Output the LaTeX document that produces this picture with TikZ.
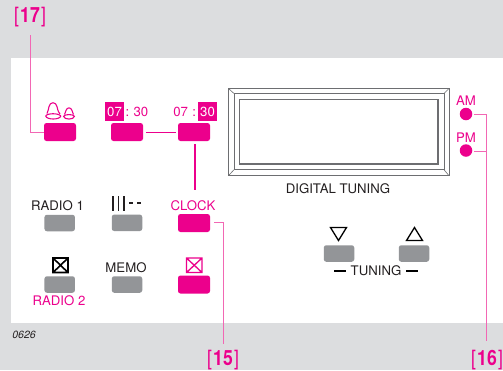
\documentclass[tikz,border=0pt]{standalone}
\usepackage{fontspec}
\usepackage{graphicx}
\setmainfont{TeX Gyre Heros}
\definecolor{bgray}{HTML}{DCDDDF}
\definecolor{mag}{HTML}{EC008C}
\definecolor{leader}{HTML}{F267B4}
\definecolor{btngray}{HTML}{939598}
\definecolor{txt}{HTML}{231F20}
\definecolor{frame}{HTML}{6D6E71}
\newcommand{\reflabel}[1]{\scalebox{0.84}[1]{\fontsize{21}{24}\selectfont\color{mag}[\hspace{1.5pt}\textbf{#1}\hspace{1.5pt}]}}
\tikzset{
  x=1pt,y=-1pt,
  magbtn/.style={fill=mag,draw=none,rounded corners=2.5pt,minimum width=32pt,minimum height=18pt,inner sep=0,outer sep=0},
  graybtn/.style={fill=btngray,draw=none,rounded corners=2.5pt,minimum width=30.5pt,minimum height=16.5pt,inner sep=0,outer sep=0},
  lab/.style={font=\fontsize{13.2}{15}\selectfont,text=txt,inner sep=0,outer sep=0},
  maglab/.style={lab,text=mag},
  timebox/.style={font=\fontsize{13.2}{15}\selectfont,text=white,fill=mag,inner sep=0,minimum width=19pt,minimum height=19pt},
  leadline/.style={draw=leader,line width=0.9pt},
  linkline/.style={draw=mag,line width=1.2pt},
  lamp/.style={circle,fill=mag,draw=none,minimum size=12.5pt,inner sep=0,outer sep=0},
  framecut/.style={draw=frame,line width=0.9pt},
  blackline/.style={draw=black,line width=1.3pt},
}
\begin{document}
\begin{tikzpicture}
\useasboundingbox (0,0) rectangle (503,370);
\fill[bgray] (0,0) rectangle (503,370);
\fill[white] (11,58) rectangle (503,323);

% buttons
\node[magbtn] (alarm) at (60,132) {};
\node[magbtn] (hour) at (127,132) {};
\node[magbtn] (minute) at (194,132) {};
\node[magbtn] (clock) at (194,223) {};
\node[magbtn] (sleepm) at (194,284.5) {};
\node[graybtn] (radioa) at (59.7,223) {};
\node[graybtn] (bars) at (127,222.8) {};
\node[graybtn] (radiob) at (59.7,284.5) {};
\node[graybtn] (memo) at (127,284.5) {};
\node[graybtn] (down) at (339,253.5) {};
\node[graybtn] (up) at (414,253.5) {};

% time labels
\node[timebox] (h1) at (114.5,111.5) {07};
\node[maglab,anchor=west] (h2) at (125.5,111.5) {:\,\,30};
\node[timebox] (m1) at (207.5,111.5) {30};
\node[maglab,anchor=east] (m2) at (196,111.5) {07\,\,:};

% bells
\begin{scope}[draw=mag,line width=1.1pt,line join=round]
\draw (47,113.5) .. controls (48.5,111) and (48.5,108) .. (49,106.5)
  .. controls (50,101.5) and (56,101.5) .. (57,106.5)
  .. controls (57.5,108) and (57.5,111) .. (60,114);
\draw (45.7,116) .. controls (47,113) and (59,113) .. (60.8,116)
  .. controls (60,120) and (46.5,120) .. (45.7,116) -- cycle;
\draw (64.5,114.5) .. controls (65.5,113) and (65.5,111) .. (66,110.5)
  .. controls (67,107) and (71,107) .. (72,110.5)
  .. controls (72.5,111) and (72.5,113) .. (73.5,114.5);
\draw (63.5,116.3) .. controls (65,114) and (73,114) .. (74.5,116.3)
  .. controls (74,120) and (64,120) .. (63.5,116.3) -- cycle;
\end{scope}

% connectors
\coordinate (c17) at (30.7,35);
\draw[leadline] (c17) |- (alarm.west);
\draw[linkline] (hour.east) ++(3,0.8) coordinate (la) -- ++(30,0) coordinate (lb);
\coordinate (clocktop) at (195,190);
\coordinate (mintop) at (195,144);
\draw[linkline] (mintop) -- (clocktop);

% labels middle
\node[lab] (radio1) at (57.5,206) {RADIO 1};
\node[maglab] (clocklab) at (193,206) {CLOCK};
\node[lab] (memolab) at (126,268) {MEMO};
\node[maglab] (radio2) at (59,301) {RADIO 2};

% bars symbol
\draw[draw=txt,line width=1.2pt] (113,196) -- (113,211) (118.5,196) -- (118.5,211) (124,196) -- (124,211);
\draw[draw=txt,line width=1.2pt] (129,203) -- (133,203) (137,203) -- (141,203);

% crossed boxes
\draw[draw=black,line width=1.6pt] (53,258) rectangle (68,272.5) (53,258) -- (68,272.5) (68,258) -- (53,272.5);
\draw[draw=mag,line width=1.3pt] (186.5,258) rectangle (202,272.5) (186.5,258) -- (202,272.5) (202,258) -- (186.5,272.5);

% clock leader
\coordinate (c15) at (223,344);
\coordinate (cl) at (214,222);
\draw[leadline] (cl) -| (c15);

% display
\draw[framecut,line width=1pt] (228.5,88.5) rectangle (449,175.7);
\draw[framecut] (234,93.5) rectangle (444,169.7);
\draw[framecut,line width=1.1pt] (239.7,99.5) rectangle (438,164);
\draw[framecut,line width=.6pt] (228.5,88.5) -- (234,93.5) (449,88.5) -- (444,93.5) (228.5,175.7) -- (234,169.7) (449,175.7) -- (444,169.7);
\node[lab] (digital) at (338,189) {DIGITAL TUNING};

% AM PM
\node[maglab] (am) at (466,100.5) {AM};
\node[maglab] (pm) at (466,138) {PM};
\node[lamp] (lam) at (466,114) {};
\node[lamp] (lpm) at (466,150.5) {};
\coordinate (c16) at (486,341);
\coordinate (st) at (486,114);
\draw[leadline] (474,114) -- (st) -- (c16);
\draw[leadline] (474,151) -- (486,151);

% triangles
\draw[draw=black,line width=1.3pt,line join=miter] (330.5,227.5) -- (346.5,227.5) -- (338.5,240.5) -- cycle;
\draw[draw=black,line width=1.3pt,line join=miter] (406.5,240.5) -- (422.5,240.5) -- (414.5,227.5) -- cycle;

% tuning
\node[lab] (tuning) at (376,271) {TUNING};
\draw[blackline] (334,271) -- (346,271) (406,271) -- (418,271);

% numbers
\node[inner sep=0] (n17) at (30,17.5) {\reflabel{17}};
\node[inner sep=0] (n15) at (223,360) {\reflabel{15}};
\node[inner sep=0] (n16) at (487,360) {\reflabel{16}};
\node[font=\fontsize{10.5}{12}\selectfont\itshape,text=txt,inner sep=0] (code) at (24,335) {0626};
\end{tikzpicture}
\end{document}
